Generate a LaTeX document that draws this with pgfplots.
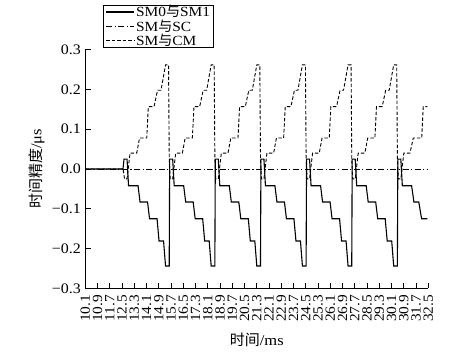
\documentclass[border=0pt]{standalone}
\usepackage{fontspec}
\setmainfont{Liberation Serif}[FakeStretch=1.1]
\newfontfamily\cjk{Noto Sans CJK SC}
\usepackage{pgfplots}
\pgfplotsset{compat=1.18}
\begin{document}
\begin{tikzpicture}
\path (0,0) rectangle (472bp,352bp);
\begin{axis}[
  at={(85.3bp,63.7bp)}, anchor=south west,
  scale only axis, width=343bp, height=238.6bp,
  xmin=10.1, xmax=32.5, ymin=-0.3, ymax=0.3,
  enlargelimits=false,
  axis lines=left,
  axis line style={-, line width=0.9bp, black},
  tick align=inside,
  major tick length=5.5bp,
  tick style={line width=0.8bp, black},
  xtick={10.1,10.9,11.7,12.5,13.3,14.1,14.9,15.7,16.5,17.3,18.1,18.9,19.7,20.5,21.3,22.1,22.9,23.7,24.5,25.3,26.1,26.9,27.7,28.5,29.3,30.1,30.9,31.7,32.5},
  xticklabels={10.1,10.9,11.7,12.5,13.3,14.1,14.9,15.7,16.5,17.3,18.1,18.9,19.7,20.5,21.3,22.1,22.9,23.7,24.5,25.3,26.1,26.9,27.7,28.5,29.3,30.1,30.9,31.7,32.5},
  ytick={-0.3,-0.2,-0.1,0,0.1,0.2,0.3},
  yticklabels={−0.3,−0.2,−0.1,0.0,0.1,0.2,0.3},
  xticklabel style={rotate=90, anchor=east, font=\fontsize{14bp}{15bp}\selectfont, xshift=-3bp},
  yticklabel style={font=\fontsize{14.5bp}{16bp}\selectfont, xshift=-1bp},
  xlabel={{\cjk 时间}/ms},
  ylabel={{\cjk 时间精度}/μs},
  xlabel style={at={(axis description cs:0.5,-0.217)}, anchor=center, font=\fontsize{15bp}{17bp}\selectfont},
  ylabel style={at={(axis description cs:-0.1417,0.5)}, anchor=center, font=\fontsize{15bp}{17bp}\selectfont},
  legend style={at={(0.052,1.189)}, anchor=north west, draw=black, line width=0.8bp, fill=white,
    font=\fontsize{14bp}{15bp}\selectfont, inner xsep=2bp, inner ysep=0.5bp, row sep=1.5bp,
    nodes={inner xsep=1.5bp, inner ysep=0bp}},
  legend cell align=left,
  legend image code/.code={\draw[#1] (0bp,0bp) -- (28bp,0bp);},
]
\addplot[black, line width=1.1bp] coordinates {
(10.1,0) (12.56,0) (12.63,0.025) (12.826,0.025) (12.924,-0.042) (13.544,-0.042) (13.675,-0.083) (14.165,-0.083) (14.295,-0.125) (14.785,-0.125) (14.916,-0.181) (15.21,-0.181) (15.34,-0.244) (15.58,-0.244)
(15.61,0.025) (15.806,0.025) (15.904,-0.042) (16.524,-0.042) (16.655,-0.083) (17.145,-0.083) (17.275,-0.125) (17.765,-0.125) (17.896,-0.181) (18.19,-0.181) (18.32,-0.244) (18.56,-0.244)
(18.59,0.025) (18.786,0.025) (18.884,-0.042) (19.504,-0.042) (19.635,-0.083) (20.125,-0.083) (20.255,-0.125) (20.745,-0.125) (20.876,-0.181) (21.17,-0.181) (21.30,-0.244) (21.54,-0.244)
(21.57,0.025) (21.766,0.025) (21.864,-0.042) (22.484,-0.042) (22.615,-0.083) (23.105,-0.083) (23.235,-0.125) (23.725,-0.125) (23.856,-0.181) (24.15,-0.181) (24.28,-0.244) (24.52,-0.244)
(24.55,0.025) (24.746,0.025) (24.844,-0.042) (25.464,-0.042) (25.595,-0.083) (26.085,-0.083) (26.215,-0.125) (26.705,-0.125) (26.836,-0.181) (27.13,-0.181) (27.26,-0.244) (27.50,-0.244)
(27.53,0.025) (27.726,0.025) (27.824,-0.042) (28.444,-0.042) (28.575,-0.083) (29.065,-0.083) (29.195,-0.125) (29.685,-0.125) (29.816,-0.181) (30.11,-0.181) (30.24,-0.244) (30.48,-0.244)
(30.51,0.025) (30.706,0.025) (30.804,-0.042) (31.41,-0.042) (31.56,-0.083) (31.88,-0.083) (32.06,-0.125) (32.44,-0.125)
};
\addlegendentry{SM0{\cjk 与}SM1}
\addplot[black, line width=0.9bp, dash pattern=on 6bp off 2.5bp on 1.2bp off 2.5bp] coordinates {
(10.1,0) (32.5,0)
};
\addlegendentry{SM{\cjk 与}SC}
\addplot[black, line width=0.9bp, dash pattern=on 3.5bp off 2bp] coordinates {
(10.1,0) (12.565,0) (12.663,-0.025) (12.826,-0.025) (13.022,0.04) (13.459,0.04) (13.642,0.078) (14.112,0.078) (14.217,0.157) (14.589,0.157) (14.818,0.198) (15.046,0.198) (15.34,0.262) (15.536,0.262) (15.582,0.025)
(15.643,-0.025) (15.806,-0.025) (16.002,0.04) (16.439,0.04) (16.622,0.078) (17.092,0.078) (17.197,0.157) (17.569,0.157) (17.798,0.198) (18.026,0.198) (18.32,0.262) (18.516,0.262) (18.562,0.025)
(18.623,-0.025) (18.786,-0.025) (18.982,0.04) (19.419,0.04) (19.602,0.078) (20.072,0.078) (20.177,0.157) (20.549,0.157) (20.778,0.198) (21.006,0.198) (21.30,0.262) (21.496,0.262) (21.542,0.025)
(21.603,-0.025) (21.766,-0.025) (21.962,0.04) (22.399,0.04) (22.582,0.078) (23.052,0.078) (23.157,0.157) (23.529,0.157) (23.758,0.198) (23.986,0.198) (24.28,0.262) (24.476,0.262) (24.522,0.025)
(24.583,-0.025) (24.746,-0.025) (24.942,0.04) (25.379,0.04) (25.562,0.078) (26.032,0.078) (26.137,0.157) (26.509,0.157) (26.738,0.198) (26.966,0.198) (27.26,0.262) (27.456,0.262) (27.502,0.025)
(27.563,-0.025) (27.726,-0.025) (27.922,0.04) (28.359,0.04) (28.542,0.078) (29.012,0.078) (29.117,0.157) (29.489,0.157) (29.718,0.198) (29.946,0.198) (30.24,0.262) (30.436,0.262) (30.482,0.025)
(30.543,-0.025) (30.706,-0.025) (30.902,0.04) (31.30,0.04) (31.52,0.078) (32.07,0.078) (32.17,0.157) (32.44,0.157)
};
\addlegendentry{SM{\cjk 与}CM}
\end{axis}
\end{tikzpicture}
\end{document}
